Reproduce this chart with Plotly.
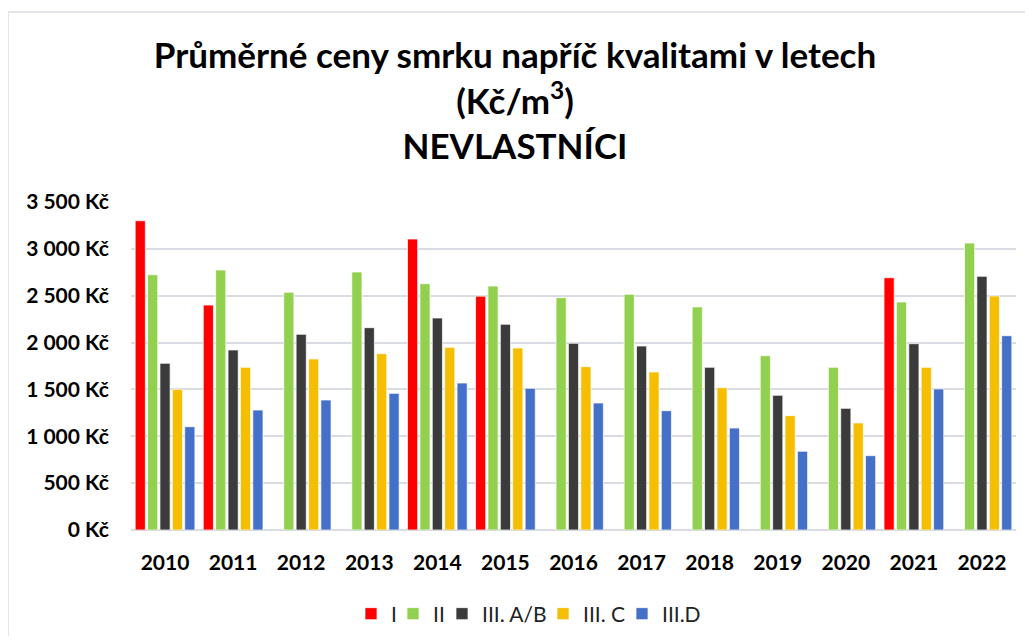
import plotly.graph_objects as go

years = ["2010", "2011", "2012", "2013", "2014", "2015", "2016", "2017", "2018", "2019", "2020", "2021", "2022"]
q_I = [3300, 2400, None, None, 3105, 2495, None, None, None, None, None, 2692, None]
q_II = [2724, 2774, 2536, 2753, 2628, 2603, 2479, 2515, 2380, 1860, 1736, 2433, 3062]
q_IIIAB = [1779, 1921, 2088, 2159, 2262, 2195, 1992, 1963, 1736, 1437, 1298, 1988, 2707]
q_IIIC = [1501, 1736, 1825, 1881, 1949, 1942, 1743, 1686, 1519, 1220, 1142, 1736, 2497]
q_IIID = [1102, 1280, 1387, 1458, 1568, 1512, 1355, 1273, 1088, 840, 793, 1505, 2073]

series_names = ["I", "II", "III. A/B", "III. C", "III.D"]
series_vals = [q_I, q_II, q_IIIAB, q_IIIC, q_IIID]
colors = ["#FF0000", "#92D050", "#3B3B3B", "#F5BE00", "#4470C8"]

tick_vals = [0, 500, 1000, 1500, 2000, 2500, 3000, 3500]
tick_text = ["0 Kč", "500 Kč", "1 000 Kč", "1 500 Kč", "2 000 Kč", "2 500 Kč", "3 000 Kč", "3 500 Kč"]

FONT = "Lato, 'Open Sans', sans-serif"

# page has an 8px body margin; work in figure coordinates = page - 8
OFF = 8
W, H = 1033 - 2 * OFF, 644 - 2 * OFF
L = 131 - OFF
T = 202 - OFF
R = W - (1016 - OFF)
B = H - (530 - OFF)
pw, ph = W - L - R, H - T - B

def px(x):  # page x -> paper
    return (x - OFF - L) / pw

def py(y):  # page y -> paper
    return (H - B - (y - OFF)) / ph

# legend square left positions in the page (reference)
legend_sq = [367, 409, 458, 559, 638]
legend_keys = ["legend", "legend2", "legend3", "legend4", "legend5"]

fig = go.Figure()
for name, vals, col, lk in zip(series_names, series_vals, colors, legend_keys):
    fig.add_trace(go.Bar(
        x=years, y=vals, name=name, legend=lk,
        marker=dict(color=col, line=dict(color="rgba(255,255,255,0.7)", width=1)),
    ))

legend_common = dict(
    orientation="h", yanchor="middle", xanchor="left",
    font=dict(family=FONT, size=21, color="#222222"),
    itemwidth=30, bgcolor="rgba(0,0,0,0)",
)
legends = {}
for lk, sx in zip(legend_keys, legend_sq):
    legends[lk] = dict(legend_common, x=px(sx - 16), y=py(614))

fig.update_layout(
    width=W, height=H,
    margin=dict(l=L, r=R, t=T, b=B, autoexpand=False),
    paper_bgcolor="white", plot_bgcolor="white",
    barmode="group", bargap=0.09, bargroupgap=0.18,
    title=dict(
        text="<b>Průměrné ceny smrku napříč kvalitami v letech<br>(Kč/m<sup>3</sup>)<br>NEVLASTNÍCI</b>",
        x=(515 - OFF) / W, xanchor="center", y=1 - 60 / H, yanchor="top",
        font=dict(family=FONT, size=35, color="#000000"),
    ),
    font=dict(family=FONT, color="#000000"),
    showlegend=True,
    shapes=[dict(
        type="rect", xref="paper", yref="paper",
        x0=px(8), x1=px(1060), y0=py(700), y1=py(12),
        line=dict(color="#D9DDE3", width=1.5), fillcolor="rgba(0,0,0,0)", layer="below",
    )],
    **legends,
)

fig.update_yaxes(
    range=[0, 3500], tickvals=tick_vals, ticktext=tick_text,
    showgrid=True, gridcolor="#D9DDE3", gridwidth=1.5,
    zeroline=True, zerolinecolor="#D9DDE3", zerolinewidth=1.5,
    ticks="outside", ticklen=17, tickcolor="rgba(0,0,0,0)",
    tickfont=dict(family=FONT, size=21, color="#000000", weight="bold"),
    fixedrange=True,
)
fig.update_xaxes(
    showgrid=False, showline=False,
    ticks="outside", ticklen=14, tickcolor="rgba(0,0,0,0)",
    tickfont=dict(family=FONT, size=21, color="#000000", weight="bold"),
    fixedrange=True,
)

fig.write_html("out.html")
